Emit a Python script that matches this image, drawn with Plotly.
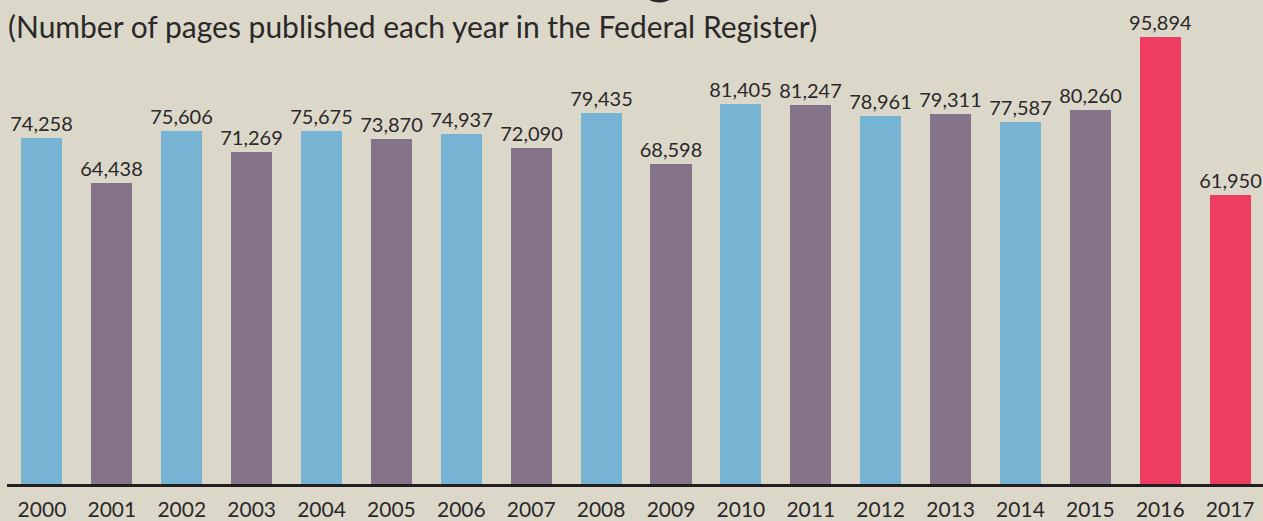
import plotly.graph_objects as go

years = ["2000", "2001", "2002", "2003", "2004", "2005", "2006", "2007", "2008",
         "2009", "2010", "2011", "2012", "2013", "2014", "2015", "2016", "2017"]
pages = [74258, 64438, 75606, 71269, 75675, 73870, 74937, 72090, 79435,
         68598, 81405, 81247, 78961, 79311, 77587, 80260, 95894, 61950]
bar_groups = ["b", "p", "b", "p", "b", "p", "b", "p", "b",
              "p", "b", "p", "b", "p", "b", "p", "r", "r"]
subtitle = "(Number of pages published each year in the Federal Register)"

palette = {"b": "#77b3d2", "p": "#857489", "r": "#ef3d62"}
bg = "#dbd8ca"
ink = "#2b2829"
num_font = "Lato, Roboto, sans-serif"

fig = go.Figure()
fig.add_trace(go.Bar(
    x=list(range(len(years))),
    y=pages,
    width=0.587,
    marker=dict(color=[palette[g] for g in bar_groups], line=dict(width=0)),
    text=[f"{v:,}" for v in pages],
    textposition="outside",
    constraintext="none",
    textfont=dict(family=num_font, size=20, color=ink),
    cliponaxis=False,
    hoverinfo="skip",
))

fig.update_layout(
    width=1263, height=521,
    margin=dict(l=7, r=0, t=0, b=33),
    paper_bgcolor=bg, plot_bgcolor=bg,
    showlegend=False,
    bargap=0,
    xaxis=dict(
        range=[-0.5, 17.47],
        tickmode="array",
        tickvals=list(range(len(years))),
        ticktext=years,
        showgrid=False, zeroline=False,
        showline=True, linecolor="#231f20", linewidth=3,
        ticks="", ticklabelstandoff=5,
        tickfont=dict(family=num_font, size=21, color=ink),
    ),
    yaxis=dict(
        range=[0, 103760],
        visible=False,
        showgrid=False, zeroline=False,
    ),
    annotations=[
        dict(
            text=subtitle, xref="paper", yref="paper",
            x=0, y=1, xshift=-1, yshift=-6,
            xanchor="left", yanchor="top", showarrow=False,
            font=dict(family="Lato, sans-serif", size=30, color=ink),
        ),
        dict(
            text="g", xref="paper", yref="paper",
            x=0.52, y=1, yshift=-6,
            xanchor="center", yanchor="bottom", showarrow=False,
            font=dict(family="Lato, sans-serif", size=62, color=ink),
        ),
    ],
)

fig.write_html(
    "out.html",
    config={"displayModeBar": False},
    post_script="document.body.style.margin='0';document.body.style.padding='0';",
)
